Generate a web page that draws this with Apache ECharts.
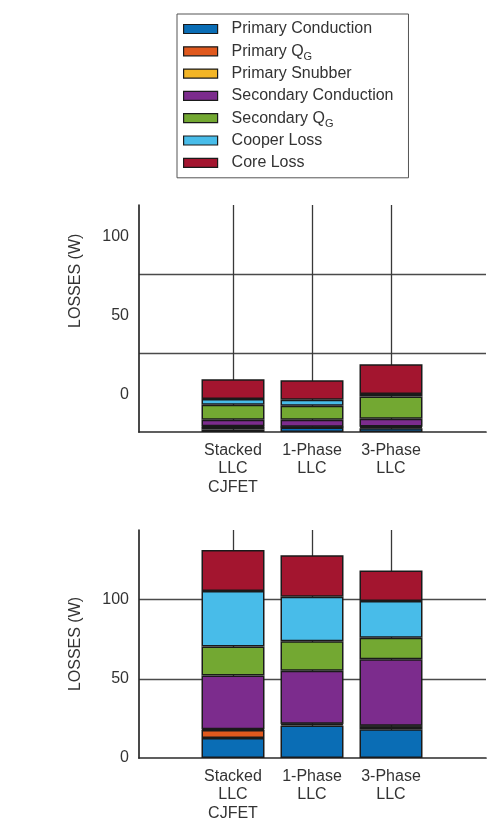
<!DOCTYPE html>
<html>
<head>
<meta charset="utf-8">
<script src="https://cdn.jsdelivr.net/npm/echarts@6/dist/echarts.min.js"></script>
<style>
  html, body { margin: 0; padding: 0; background: #ffffff; }
  #chart { width: 496px; height: 830px; }
</style>
</head>
<body>
<div id="chart"></div>
<script>
// ---- data ----
const categories = ['Stacked\nLLC\nCJFET', '1-Phase\nLLC', '3-Phase\nLLC'];
const seriesNames = ['Primary Conduction', 'Primary QG', 'Primary Snubber', 'Secondary Conduction', 'Secondary QG', 'Cooper Loss', 'Core Loss'];
const yTickLabels = [0, 50, 100];

// upper chart
const topPrimaryConduction   = [1.6, 2.8, 2.4];
const topPrimaryQG           = [1.7, 0.3, 0.7];
const topPrimarySnubber      = [0.3, 0.2, 0.4];
const topSecondaryConduction = [4.2, 4.5, 4.9];
const topSecondaryQG         = [9.5, 8.8, 14.1];
const topCooperLoss          = [3.6, 3.8, 1.6];
const topCoreLoss            = [12.6, 12.5, 18.9];

// lower chart
const botPrimaryConduction   = [12.7, 20.6, 18.2];
const botPrimaryQG           = [5.0, 0.8, 1.8];
const botPrimarySnubber      = [0.4, 0.3, 0.3];
const botSecondaryConduction = [34.0, 33.4, 42.0];
const botSecondaryQG         = [18.4, 18.6, 13.7];
const botCooperLoss          = [35.0, 28.2, 23.1];
const botCoreLoss            = [25.8, 26.1, 19.3];

// ---- styling ----
const colors = ['#0a6db5', '#e0591e', '#f3b526', '#7c2c8d', '#73a832', '#48bce9', '#a3152f'];
const topData = [topPrimaryConduction, topPrimaryQG, topPrimarySnubber, topSecondaryConduction, topSecondaryQG, topCooperLoss, topCoreLoss];
const botData = [botPrimaryConduction, botPrimaryQG, botPrimarySnubber, botSecondaryConduction, botSecondaryQG, botCooperLoss, botCoreLoss];

const FONT = 'Liberation Sans, Arial, sans-serif';
const TXT = '#333333';
const AXIS_MAX = 144;
const INTERVAL = yTickLabels[1] - yTickLabels[0];

function wideX(gridIndex, show) {
  return {
    type: 'value', gridIndex, min: 0, max: 1,
    axisLine: { show: show, onZero: false, lineStyle: { color: '#2a2a2a', width: 1.7 } },
    axisTick: { show: false }, axisLabel: { show: false }, splitLine: { show: false }
  };
}
function narrowX(gridIndex) {
  return {
    type: 'category', gridIndex, data: categories, boundaryGap: false,
    axisLine: { show: false }, axisTick: { show: false },
    axisLabel: { interval: 0, color: TXT, fontFamily: FONT, fontSize: 16, lineHeight: 18.5, margin: 9 },
    splitLine: { show: true, lineStyle: { color: '#383838', width: 1.3 } }
  };
}
function hiddenY(gridIndex) {
  return { type: 'value', gridIndex, min: 0, max: AXIS_MAX, show: false };
}
function lineY(gridIndex, showLabels) {
  return {
    type: 'value', gridIndex, min: 0, max: AXIS_MAX, interval: INTERVAL,
    axisLine: { show: true, lineStyle: { color: '#2a2a2a', width: 1.7 } },
    axisTick: { show: false },
    axisLabel: showLabels ? { show: true, showMaxLabel: false, color: TXT, fontFamily: FONT, fontSize: 16, margin: 10 } : { show: false },
    splitLine: { show: true, showMinLine: false, showMaxLine: false, lineStyle: { color: '#4a4a4a', width: 1.3 } },
    name: showLabels ? 'LOSSES (W)' : '',
    nameLocation: 'middle', nameRotate: 90, nameGap: 55,
    nameTextStyle: { color: TXT, fontFamily: FONT, fontSize: 16 }
  };
}
function labelOnlyY(gridIndex) {
  return {
    type: 'value', gridIndex, min: 0, max: AXIS_MAX, interval: INTERVAL,
    axisLine: { show: false }, axisTick: { show: false },
    axisLabel: { show: true, showMaxLabel: false, color: TXT, fontFamily: FONT, fontSize: 16, margin: 10 },
    splitLine: { show: false },
    name: 'LOSSES (W)', nameLocation: 'middle', nameRotate: 90, nameGap: 55,
    nameTextStyle: { color: TXT, fontFamily: FONT, fontSize: 16 }
  };
}

function barSeries(dataArr, stack, xIdx, yIdx) {
  return seriesNames.map((name, i) => ({
    name, type: 'bar', stack, xAxisIndex: xIdx, yAxisIndex: yIdx,
    data: dataArr[i], barWidth: 63, clip: false,
    itemStyle: { color: colors[i], borderColor: '#1a1a1a', borderWidth: 1.5 },
    emphasis: { disabled: true }
  }));
}

const option = {
  backgroundColor: '#ffffff',
  animation: false,
  legend: {
    orient: 'vertical', left: 177, top: 14,
    data: seriesNames, icon: 'rect', itemWidth: 34, itemHeight: 9, itemGap: 0.3,
    padding: [4, 15, 4, 6],
    borderColor: '#555555', borderWidth: 1,
    selectedMode: false,
    itemStyle: { borderColor: '#1a1a1a', borderWidth: 1.2 },
    formatter: (name) => name.replace('QG', 'Q{sub|G}'),
    textStyle: {
      color: TXT, fontFamily: FONT, fontSize: 16, lineHeight: 22, padding: [0, 0, 0, 9],
      rich: {
        sub: { color: TXT, fontFamily: FONT, fontSize: 11, lineHeight: 22, verticalAlign: 'bottom' }
      }
    }
  },
  grid: [
    { left: 139, right: 10, top: 205, height: 227 },   // 0 upper: axis lines + grid lines
    { left: 233, width: 158, top: 205, height: 227 },  // 1 upper: bars
    { left: 139, right: 10, top: 167.3, height: 227 }, // 2 upper: tick labels (as printed)
    { left: 139, right: 10, top: 530, height: 228 },   // 3 lower: axis lines + grid lines
    { left: 233, width: 158, top: 530, height: 228 }   // 4 lower: bars
  ],
  xAxis: [wideX(0, true), narrowX(1), wideX(2, false), wideX(3, true), narrowX(4)],
  yAxis: [lineY(0, false), hiddenY(1), labelOnlyY(2), lineY(3, true), hiddenY(4)],
  series: [].concat(barSeries(topData, 'top', 1, 1), barSeries(botData, 'bottom', 4, 4))
};

const chart = echarts.init(document.getElementById('chart'), null, { renderer: 'canvas' });
chart.setOption(option);
</script>
</body>
</html>
